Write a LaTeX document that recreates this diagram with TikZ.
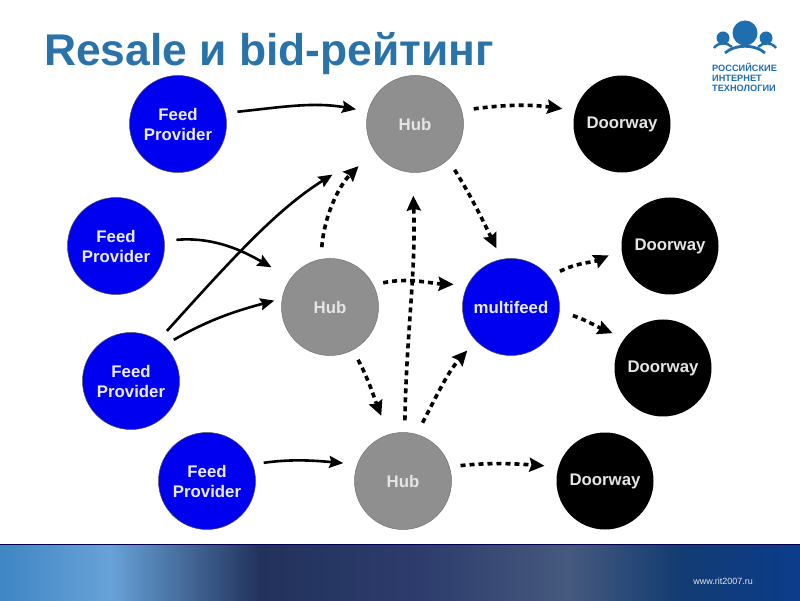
\documentclass[tikz,border=0pt]{standalone}
\usepackage{fontspec}
\setmainfont{Liberation Sans}
\usetikzlibrary{arrows.meta}
\definecolor{titleblue}{HTML}{2A73A9}
\definecolor{feedblue}{HTML}{0000F0}
\definecolor{hubgray}{HTML}{8F8F8F}
\definecolor{logoblue}{HTML}{1F6FAE}
\definecolor{bandA}{HTML}{3E86C4}
\definecolor{bandB}{HTML}{68A2D8}
\definecolor{bandC}{HTML}{22325C}
\definecolor{bandD}{HTML}{2D3C6C}
\definecolor{bandE}{HTML}{46597E}
\definecolor{bandF}{HTML}{123C72}
\definecolor{bandG}{HTML}{0C3C8C}
\tikzset{
  x=1pt,y=1pt,
  disc/.style={circle,minimum size=97pt,inner sep=0pt,align=center,font=\bfseries\fontsize{16.8}{20}\selectfont},
  feed/.style={disc,fill=feedblue,draw=black!70,line width=.5pt,text=white!92!blue},
  hubn/.style={disc,fill=hubgray,draw=black!55,line width=.5pt,text=white!90!black},
  door/.style={disc,fill=black,text=white!90!black},
  solidarr/.style={line width=2.6pt,-{Stealth[length=14pt,width=12pt,inset=2pt]}},
  dasharr/.style={line width=3.6pt,dash pattern=on 5pt off 4pt,-{Stealth[length=15pt,width=14pt,inset=2pt]}},
  gaps/.style 2 args={shorten <=#1pt,shorten >=#2pt},
  band/.style={draw=none}
}
\begin{document}
\begin{tikzpicture}
\useasboundingbox (0,0) rectangle (800,600);
\fill[white] (0,0) rectangle (800,600);
% bottom band
\shade[band,left color=bandA,right color=bandB] (0,0) rectangle (110,55);
\shade[band,left color=bandB,right color=bandC] (110,0) rectangle (260,55);
\shade[band,left color=bandC,right color=bandD] (260,0) rectangle (420,55);
\shade[band,left color=bandD,right color=bandE] (420,0) rectangle (570,55);
\shade[band,left color=bandE,right color=bandF] (570,0) rectangle (680,55);
\shade[band,left color=bandF,right color=bandG] (680,0) rectangle (800,55);
\fill[black!70!blue] (0,55) rectangle (800,56);
\node[text=white!90!black,font=\fontsize{9}{10}\selectfont,anchor=east,inner sep=0pt] (url) at (753,19) {www.rit2007.ru};
% title
\node[text=titleblue,font=\bfseries\fontsize{44.4}{48}\selectfont,anchor=west,inner sep=0pt] (title) at (44,546.5) {Resale и bid-рейтинг};
% logo
\fill[logoblue] (745,567) circle (12.5);
\fill[logoblue] (723,562) circle (6.5);
\fill[logoblue] (766,562) circle (6.5);
\draw[logoblue,line width=2.8pt] (725,547) .. controls (735,556) and (755,556) .. (765,547);
\draw[logoblue,line width=2.4pt] (714,552) .. controls (718,558) and (727,558) .. (732,553);
\draw[logoblue,line width=2.4pt] (776,552) .. controls (772,558) and (763,558) .. (758,553);
\node[text=logoblue,font=\bfseries\fontsize{9.2}{10}\selectfont,align=left,anchor=west,inner sep=0pt] (logotext) at (712,523) {РОССИЙСКИЕ\\ИНТЕРНЕТ\\ТЕХНОЛОГИИ};
% nodes
\node[feed] (f1) at (178,476) {Feed\\Provider};
\node[feed] (f2) at (116,354) {Feed\\Provider};
\node[feed] (f3) at (131,219) {Feed\\Provider};
\node[feed] (f4) at (207,119) {Feed\\Provider};
\node[hubn] (h1) at (415,476) {Hub};
\node[hubn] (h2) at (330,293) {Hub};
\node[hubn] (h3) at (403,119) {Hub};
\node[feed] (m) at (511,293) {multifeed};
\node[door] (d1) at (622,476) {Doorway};
\node[door] (d2) at (670,354) {Doorway};
\node[door] (d3) at (663,232) {Doorway};
\node[door] (d4) at (605,119) {Doorway};
% solid connectors
\draw[solidarr,gaps={12}{12}] (f1.13) to[out=6,in=170] (h1.165);
\draw[solidarr,gaps={12}{22}] (f2.6) to[out=5,in=150] (h2.144);
\draw[solidarr,gaps={13}{48}] (f3.56) to[out=48,in=212] (h1.211);
\draw[solidarr,gaps={11}{8}] (f3.47) to[out=30,in=195] (h2.170);
\draw[solidarr,gaps={11}{14}] (f4.20) to[out=8,in=175] (h3.160);
% dashed connectors
\draw[dasharr,gaps={12}{13}] (h1.16) to[out=8,in=172] (d1.164);
\draw[dasharr,gaps={12}{12}] (h1.-47) to[out=-58,in=116] (m.101);
\draw[dasharr,gaps={12}{22}] (h2.101) to[out=85,in=225] (h1.213);
\draw[dasharr,gaps={10}{14}] (h2.27) to[out=12,in=178] (m.153);
\draw[dasharr,gaps={11}{20}] (h2.-62) to[out=-62,in=112] (h3.107);
\draw[dasharr,gaps={12}{23}] (h3.88) to[out=89,in=-88] (h1.267.5);
\draw[dasharr,gaps={13}{13}] (h3.74) to[out=62,in=228] (m.224);
\draw[dasharr,gaps={11}{14}] (h3.17) to[out=6,in=176] (d4.163);
\draw[dasharr,gaps={12}{14}] (m.38) to[out=28,in=205] (d2.184);
\draw[dasharr,gaps={14}{13}] (m.-5.5) to[out=-18,in=158] (d3.142);
\end{tikzpicture}
\end{document}
